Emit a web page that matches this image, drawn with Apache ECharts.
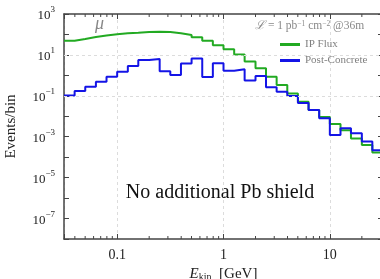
<!DOCTYPE html>
<html>
<head>
<meta charset="utf-8">
<script src="https://cdn.jsdelivr.net/npm/echarts@6/dist/echarts.min.js"></script>
<style>
html,body{margin:0;padding:0;background:#fff;}
#chart{width:380px;height:279px;}
</style>
</head>
<body>
<div id="chart"></div>
<script>
// bin edges in GeV (0.1 decade wide)
var binEdges = [0.03162, 0.0398, 0.0501, 0.0631, 0.0794, 0.1, 0.126, 0.158, 0.2, 0.251,
    0.316, 0.398, 0.501, 0.631, 0.794, 1, 1.26, 1.58, 2, 2.51,
    3.16, 3.98, 5.01, 6.31, 7.94, 10, 12.6, 15.8, 20, 25.1, 31.62];
var ipFlux = [49, 60, 75, 89, 102, 114, 122, 132, 136, 132,
    114, 94, 72, 49, 30, 18.7, 10.5, 4.7, 2.2, 0.86,
    0.34, 0.13, 0.051, 0.020, 0.0091, 0.0042, 0.0021, 0.00083, 0.00039, 0.00017];
var postConcrete = [0.105, 0.17, 0.28, 0.49, 0.86, 1.5, 2.9, 5.6, 6.3, 1.6,
    1.05, 3.8, 6.7, 0.83, 3.9, 1.7, 2.0, 0.56, 0.93, 0.26,
    0.16, 0.098, 0.045, 0.020, 0.0081, 0.0012, 0.0026, 0.0015, 0.00058, 0.00022];
var xMinorTicks = [0.04, 0.05, 0.06, 0.07, 0.08, 0.09, 0.2, 0.3, 0.4, 0.5, 0.6, 0.7, 0.8, 0.9,
    2, 3, 4, 5, 6, 7, 8, 9, 20, 30];
var yGridLines = [1e1, 1e-1, 1e-3, 1e-5, 1e-7];
var xLabels = {'-1': '0.1', '0': '1', '1': '10'};

var serif = 'Liberation Serif';
var frameColor = '#444';
var ink = '#222';

function stepData(vals) {
    var out = [];
    for (var i = 0; i < vals.length; i++) out.push([binEdges[i], vals[i]]);
    out.push([binEdges[vals.length], vals[vals.length - 1]]);
    return out;
}

var chart = echarts.init(document.getElementById('chart'));
var axisBase = {
    type: 'log',
    logBase: 10,
    axisLine: {show: true, onZero: false, lineStyle: {color: frameColor, width: 1.5}},
    axisTick: {show: true, inside: true, length: 5, lineStyle: {color: frameColor, width: 1}},
    splitLine: {show: false}
};

chart.setOption({
    animation: false,
    backgroundColor: '#fff',
    textStyle: {fontFamily: serif},
    grid: {left: 64, right: -3, top: 14, bottom: 40, containLabel: false, outerBoundsMode: 'none'},
    legend: {
        left: 275, top: 34, orient: 'vertical', itemGap: 5,
        itemWidth: 20, itemHeight: 3, icon: 'rect',
        textStyle: {fontFamily: serif, fontSize: 11, color: '#808080'},
        data: ['IP Flux', 'Post-Concrete']
    },
    xAxis: [
        echarts.util.merge({
            position: 'bottom', min: binEdges[0], max: binEdges[binEdges.length - 1],
            name: '{i|E}{s|kin}  [GeV]', nameLocation: 'middle', nameGap: 27,
            nameTextStyle: {fontFamily: serif, fontSize: 15, color: ink,
                rich: {i: {fontFamily: serif, fontStyle: 'italic', fontSize: 15, color: ink},
                       s: {fontFamily: serif, fontSize: 10, color: ink, verticalAlign: 'bottom'}}},
            axisLabel: {
                fontFamily: serif, fontSize: 14, color: ink, margin: 9,
                formatter: function (v) {
                    var e = Math.log10(v);
                    var r = Math.round(e);
                    if (Math.abs(e - r) > 1e-6) return '';
                    return xLabels[r] || '';
                }
            },
            splitLine: {show: true, lineStyle: {color: '#dcdcdc', type: [3, 3], width: 1}}
        }, axisBase, false),
        echarts.util.merge({
            position: 'top', min: binEdges[0], max: binEdges[binEdges.length - 1],
            axisLabel: {show: false}
        }, axisBase, false)
    ],
    yAxis: [
        echarts.util.merge({
            position: 'left', min: 1e-8, max: 1e3, interval: 1,
            name: 'Events/bin', nameLocation: 'middle', nameGap: 45,
            nameTextStyle: {fontFamily: serif, fontSize: 15, color: ink},
            axisLabel: {
                margin: 9,
                formatter: function (v) {
                    var e = Math.round(Math.log10(v));
                    if (e % 2 === 0) return '';
                    return '{b|10}{s|' + String(e).replace('-', '\u2212') + '}';
                },
                rich: {
                    b: {fontFamily: serif, fontSize: 13, color: ink, lineHeight: 17, verticalAlign: 'bottom'},
                    s: {fontFamily: serif, fontSize: 9, color: ink, lineHeight: 17, verticalAlign: 'top'}
                }
            }
        }, axisBase, false),
        echarts.util.merge({
            position: 'right', min: 1e-8, max: 1e3, interval: 1,
            axisLabel: {show: false}
        }, axisBase, false)
    ],
    graphic: [
        {type: 'text', left: 95, top: 15, style: {text: '\u03bc', fontFamily: serif, fontStyle: 'italic', fontSize: 18, fill: '#888'}},
        {type: 'text', left: 255, top: 20, style: {
            text: '{i|\u2112} = 1 pb{s|\u22121} cm{s|\u22122} @36m',
            fontFamily: serif, fontSize: 11.5, fill: '#888',
            rich: {i: {fontFamily: serif, fontStyle: 'italic', fontSize: 12, fill: '#888'},
                   s: {fontFamily: serif, fontSize: 7.5, fill: '#888', verticalAlign: 'top'}}
        }},
        {type: 'text', x: 220, y: 193, style: {
            text: 'No additional Pb shield', fontFamily: serif, fontSize: 20, fill: '#111',
            align: 'center', verticalAlign: 'middle'
        }}
    ],
    series: [
        {
            name: 'grid', type: 'line', data: [[binEdges[0], 1e-8]], symbol: 'none', silent: true,
            lineStyle: {opacity: 0}, z: 1,
            markLine: {
                silent: true, symbol: 'none', label: {show: false},
                lineStyle: {color: '#dcdcdc', type: [3, 3], width: 1},
                data: yGridLines.map(function (v) { return {yAxis: v}; })
            }
        },
        {
            name: 'IP Flux', type: 'line', step: 'end', data: stepData(ipFlux),
            symbol: 'none', color: '#22aa22', lineStyle: {width: 2, color: '#22aa22'}, z: 3
        },
        {
            name: 'Post-Concrete', type: 'line', step: 'end', data: stepData(postConcrete),
            symbol: 'none', color: '#1414e6', lineStyle: {width: 2, color: '#1414e6'}, z: 4
        },
        {
            name: 'minor', type: 'custom', silent: true, z: 5, clip: false,
            data: xMinorTicks.map(function (v) { return [v]; }),
            renderItem: function (params, api) {
                var v = api.value(0);
                var b = api.coord([v, 1e-8]);
                var t = api.coord([v, 1e3]);
                var st = {stroke: frameColor, lineWidth: 1};
                return {type: 'group', children: [
                    {type: 'line', shape: {x1: b[0], y1: b[1], x2: b[0], y2: b[1] - 3}, style: st},
                    {type: 'line', shape: {x1: t[0], y1: t[1], x2: t[0], y2: t[1] + 3}, style: st}
                ]};
            }
        }
    ]
});
</script>
</body>
</html>
